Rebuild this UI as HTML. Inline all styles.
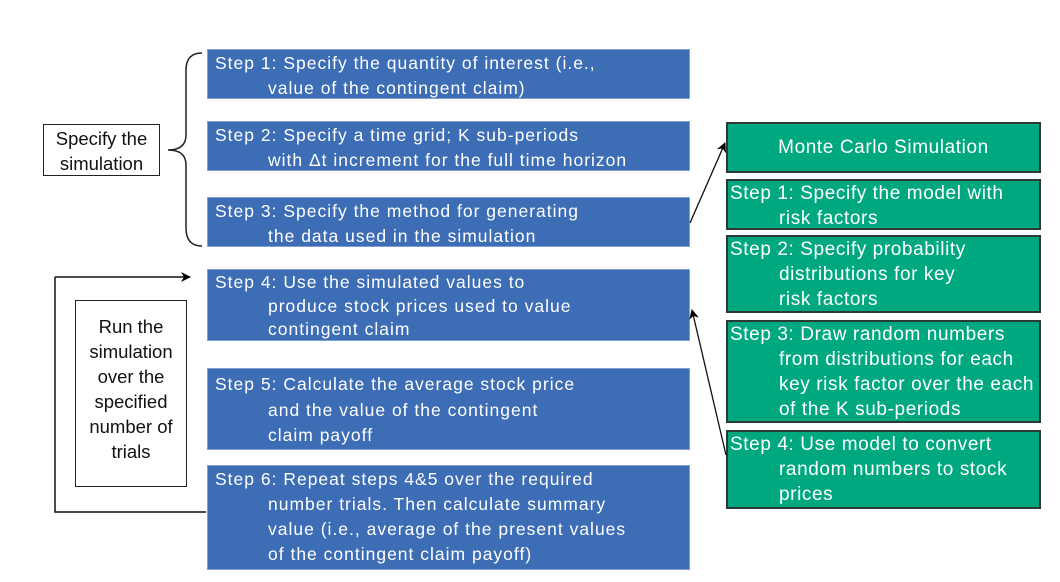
<!DOCTYPE html>
<html><head><meta charset="utf-8"><style>
body{margin:0;width:1060px;height:582px;background:#fff;position:relative;overflow:hidden;font-family:"Liberation Sans",sans-serif}
.b{position:absolute;left:207px;width:483px;background:#3d6db4;color:#fff;font-size:17.5px;letter-spacing:1px;line-height:25px;box-sizing:border-box;padding:1px 0 0 7px;border:1px solid #7fa0d0;white-space:nowrap}
.b .i{padding-left:53px}
.g{position:absolute;left:726px;width:315px;background:#00a880;color:#fff;font-size:19px;letter-spacing:0.6px;line-height:25px;box-sizing:border-box;padding:0 0 0 2px;border:2px solid #2a3a34}
.g .i{padding-left:49px;white-space:nowrap}
.w{position:absolute;border:1.5px solid #222;background:#fff;color:#111;text-align:center;font-size:18.5px;line-height:25px;box-sizing:border-box}
</style></head><body>
<div class="b" style="top:49px;height:50px">Step 1: Specify the quantity of interest (i.e.,<div class="i">value of the contingent claim)</div></div>
<div class="b" style="top:121px;height:50px">Step 2: Specify a time grid; K sub-periods<div class="i">with Δt increment for the full time horizon</div></div>
<div class="b" style="top:197px;height:50px">Step 3: Specify the method for generating<div class="i">the data used in the simulation</div></div>
<div class="b" style="top:269px;height:72px;line-height:23.5px">Step 4: Use the simulated values to<div class="i">produce stock prices used to value<br>contingent claim</div></div>
<div class="b" style="top:368px;height:82px;line-height:25.5px;padding-top:3px">Step 5: Calculate the average stock price<div class="i">and the value of the contingent<br>claim payoff</div></div>
<div class="b" style="top:465px;height:105px;padding-top:1px">Step 6: Repeat steps 4&amp;5 over the required<div class="i">number trials. Then calculate summary<br>value (i.e., average of the present values<br>of the contingent claim payoff)</div></div>

<div class="g" style="top:122px;height:51px;text-align:center;line-height:47px;padding:0">Monte Carlo Simulation</div>
<div class="g" style="top:179px;height:51px">Step 1: Specify the model with<div class="i">risk factors</div></div>
<div class="g" style="top:235px;height:78px">Step 2: Specify probability<div class="i">distributions for key<br>risk factors</div></div>
<div class="g" style="top:320px;height:103px">Step 3: Draw random numbers<div class="i">from distributions for each<br>key risk factor over the each<br>of the K sub-periods</div></div>
<div class="g" style="top:430px;height:79px">Step 4: Use model to convert<div class="i">random numbers to stock<br>prices</div></div>

<div class="w" style="left:43px;top:124px;width:117px;height:52px;padding-top:1px">Specify the<br>simulation</div>
<div class="w" style="left:75px;top:300px;width:112px;height:187px;padding-top:13px">Run the<br>simulation<br>over the<br>specified<br>number of<br>trials</div>

<svg width="1060" height="582" style="position:absolute;left:0;top:0">
<defs><marker id="a" markerWidth="10" markerHeight="10" refX="9" refY="5" orient="auto" markerUnits="userSpaceOnUse"><path d="M0,0 L10,5 L0,10 L3,5 z" fill="#000"/></marker></defs>
<path d="M202,53 Q186,53 186,70 L186,135 Q186,150 168,150 Q186,150 186,165 L186,228 Q186,246 202,246" fill="none" stroke="#222" stroke-width="1.5"/>
<path d="M55,277 L190,277" stroke="#111" stroke-width="1.5" marker-end="url(#a)"/>
<path d="M55,277 L55,512 L206,512" fill="none" stroke="#111" stroke-width="1.5"/>
<path d="M690,223 L725,143" stroke="#111" stroke-width="1.3" marker-end="url(#a)"/>
<path d="M726,455 L692,310" stroke="#111" stroke-width="1.3" marker-end="url(#a)"/>
</svg>
</body></html>
